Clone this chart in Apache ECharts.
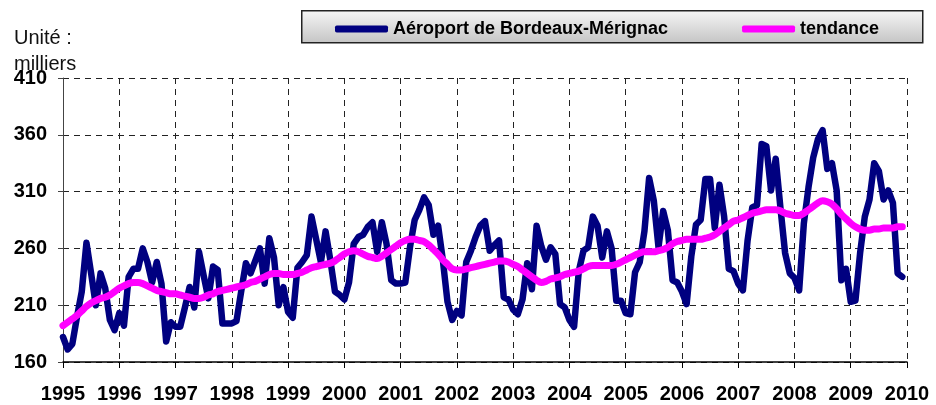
<!DOCTYPE html>
<html>
<head>
<meta charset="utf-8">
<script src="https://cdn.jsdelivr.net/npm/echarts@6/dist/echarts.min.js"></script>
<style>
  html, body { margin: 0; padding: 0; background: #fff; }
  #chart { width: 936px; height: 405px; }
</style>
</head>
<body>
<div id="chart"></div>
<script>
// premiere annee / derniere graduation
var startYear = 1995
var endYear = 2010
var yTicks = [160, 210, 260, 310, 360, 410]

// trafic mensuel, milliers (jan -> dec)
var aeroport = [
  182, 171, 176, 200, 222, 265, 238, 210, 238, 225, 197, 188, // 1995
  203, 192, 235, 242, 242, 260, 248, 230, 248, 229, 178, 195, // 1996
  191, 191, 208, 226, 208, 257, 236, 216, 244, 241, 194, 194, // 1997
  194, 196, 222, 247, 238, 249, 260, 229, 269, 252, 210, 226, // 1998
  204, 199, 243, 248, 254, 288, 268, 248, 275, 250, 222, 219, // 1999
  215, 230, 264, 270, 272, 279, 283, 257, 283, 264, 232, 229, // 2000
  229, 230, 261, 285, 294, 305, 298, 272, 280, 250, 213, 197, // 2001
  205, 201, 248, 258, 270, 280, 284, 258, 263, 267, 217, 215, // 2002
  206, 202, 215, 247, 224, 280, 262, 250, 261, 255, 211, 208, // 2003
  197, 191, 240, 258, 261, 288, 280, 252, 275, 260, 214, 214, // 2004
  203, 202, 239, 248, 275, 322, 302, 261, 293, 276, 232, 230, // 2005
  222, 211, 253, 281, 285, 321, 321, 278, 316, 288, 242, 240, // 2006
  229, 223, 267, 296, 298, 352, 350, 311, 339, 296, 256, 238, // 2007
  234, 223, 282, 314, 340, 356, 364, 330, 335, 311, 232, 242, // 2008
  213, 214, 256, 288, 303, 335, 328, 303, 311, 300, 238, 235  // 2009
]

// courbe de tendance
var tendance = [
  192, 195, 198, 201, 205, 209, 212, 214, 216, 217, 219, 222, // 1995
  225, 227, 229, 230, 230, 229, 227, 225, 223, 222, 221, 220, // 1996
  220, 219, 218, 217, 216, 216, 217, 219, 220, 222, 223, 224, // 1997
  225, 226, 227, 228, 230, 231, 233, 235, 237, 238, 238, 237, // 1998
  237, 237, 238, 239, 241, 243, 244, 245, 246, 247, 249, 252, // 1999
  255, 257, 258, 257, 255, 253, 252, 251, 253, 256, 259, 262, // 2000
  265, 267, 268, 268, 267, 266, 263, 259, 255, 250, 246, 242, // 2001
  241, 241, 242, 243, 244, 245, 246, 247, 248, 249, 249, 248, // 2002
  246, 244, 241, 238, 235, 232, 230, 231, 233, 234, 235, 237, // 2003
  238, 239, 240, 242, 244, 245, 245, 245, 245, 245, 246, 248, // 2004
  250, 252, 254, 256, 257, 257, 257, 258, 259, 261, 264, 266, // 2005
  267, 268, 268, 268, 268, 269, 270, 272, 275, 278, 281, 284, // 2006
  285, 287, 289, 291, 292, 293, 294, 294, 294, 293, 291, 290, // 2007
  289, 289, 291, 294, 297, 300, 302, 301, 299, 295, 290, 286, // 2008
  282, 279, 277, 276, 276, 277, 277, 278, 278, 278, 279, 279  // 2009
]

// mois -> position sur l'axe des annees
function toPoints(values) {
  var pts = []
  for (var i = 0; i < values.length; i++) {
    pts.push([startYear + i / 12, values[i]])
  }
  return pts
}

var font = "'Liberation Sans', Arial, sans-serif"
var gridDash = { color: '#222', width: 1, type: [6, 5] }

var myChart = echarts.init(document.getElementById('chart'))
var option = {
  animation: false,
  backgroundColor: '#fff',
  grid: { left: 63, right: 29, top: 78, bottom: 43 },
  graphic: [
    {
      // cadre de la legende
      type: 'rect',
      left: 301,
      top: 10,
      z: 0,
      shape: { width: 621, height: 32 },
      style: {
        fill: new echarts.graphic.LinearGradient(0, 0, 0, 1, [
          { offset: 0, color: '#f6f6f6' },
          { offset: 1, color: '#c4c4c4' }
        ]),
        stroke: '#222',
        lineWidth: 1.5
      }
    },
    {
      type: 'text',
      left: 14,
      top: 25,
      style: {
        text: 'Unité :\nmilliers',
        font: '20px ' + font,
        fill: '#111',
        lineHeight: 26
      }
    }
  ],
  legend: {
    left: 335,
    top: 20,
    padding: 0,
    z: 5,
    itemGap: 74,
    itemWidth: 53,
    itemHeight: 7,
    icon: 'roundRect',
    textStyle: { fontFamily: font, fontSize: 18, fontWeight: 'bold', color: '#000' },
    data: ['Aéroport de Bordeaux-Mérignac', 'tendance']
  },
  xAxis: {
    type: 'value',
    min: startYear,
    max: endYear,
    interval: 1,
    axisLine: { lineStyle: { color: '#000', width: 1.5 } },
    axisTick: { show: true, length: 6, lineStyle: { color: '#000' } },
    axisLabel: {
      margin: 22,
      fontFamily: font,
      fontSize: 20,
      fontWeight: 'bold',
      color: '#000',
      formatter: function (v) { return String(v) }
    },
    splitLine: { show: true, lineStyle: gridDash }
  },
  yAxis: {
    type: 'value',
    min: yTicks[0],
    max: yTicks[yTicks.length - 1],
    interval: 50,
    axisLine: { show: true, lineStyle: { color: '#444', width: 1 } },
    axisTick: { show: true, length: 5, lineStyle: { color: '#444' } },
    axisLabel: {
      margin: 16,
      fontFamily: font,
      fontSize: 20,
      fontWeight: 'bold',
      color: '#000'
    },
    splitLine: { show: true, lineStyle: gridDash }
  },
  series: [
    {
      name: 'Aéroport de Bordeaux-Mérignac',
      type: 'line',
      showSymbol: false,
      color: '#000080',
      lineStyle: { width: 6.5, color: '#000080', cap: 'round', join: 'round' },
      data: toPoints(aeroport),
      z: 2
    },
    {
      name: 'tendance',
      type: 'line',
      showSymbol: false,
      smooth: 0.3,
      color: '#ff00ff',
      lineStyle: { width: 7, color: '#ff00ff', cap: 'round', join: 'round' },
      data: toPoints(tendance),
      z: 3
    }
  ]
}
myChart.setOption(option)
</script>
</body>
</html>
